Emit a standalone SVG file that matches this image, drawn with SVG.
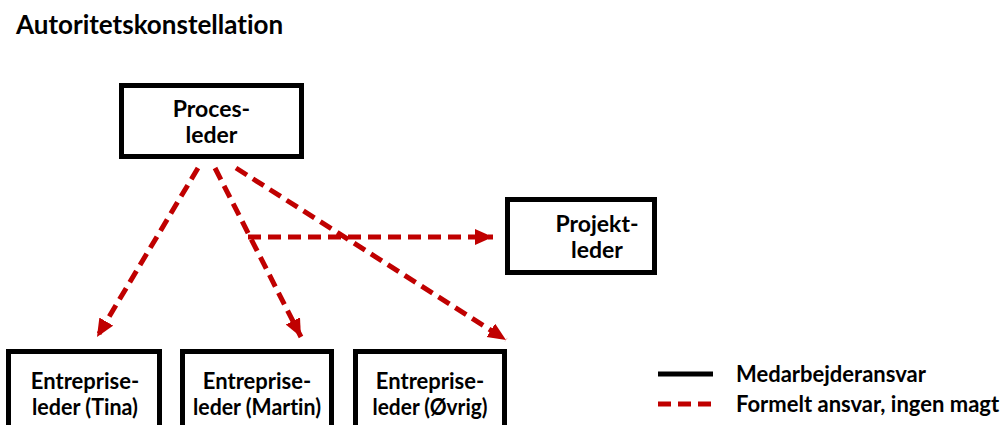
<svg xmlns="http://www.w3.org/2000/svg" width="1003" height="425" viewBox="0 0 1003 425">
  <style>
    text { font-family: Lato, "Open Sans", "Liberation Sans", sans-serif; font-weight: 700; fill: #000000; font-variant-ligatures: none; }
    .box { fill: #ffffff; stroke: #000000; stroke-width: 5; }
    .lbl { font-size: 23px; text-anchor: middle; }
    .sm { font-size: 22px; }
    .title { font-size: 26px; }
    .legend { font-size: 22px; }
    .formal { fill: none; stroke: #C00000; stroke-width: 5; stroke-dasharray: 13 7; }
    .staff { fill: none; stroke: #000000; stroke-width: 5; }
  </style>
  <defs>
    <marker id="head" markerUnits="userSpaceOnUse" markerWidth="20" markerHeight="18" refX="18" refY="8" orient="auto">
      <path d="M0,0 L18,8 L0,16 Z" fill="#C00000"/>
    </marker>
  </defs>

  <rect width="1003" height="425" fill="#ffffff"/>

  <text class="title" x="16" y="34">Autoritetskonstellation</text>

  <!-- formal responsibility connectors -->
  <g id="connectors">
    <line class="formal" x1="198" y1="168" x2="97" y2="337" marker-end="url(#head)"/>
    <line class="formal" x1="215" y1="168" x2="301" y2="337" marker-end="url(#head)"/>
    <line class="formal" x1="236" y1="168" x2="506" y2="340" marker-end="url(#head)"/>
    <line class="formal" x1="248" y1="237" x2="493" y2="237" marker-end="url(#head)"/>
  </g>

  <g id="procesleder">
    <rect class="box" x="121.5" y="85.5" width="180" height="71"/>
    <text class="lbl" x="211.5" y="117">Proces-</text>
    <text class="lbl" x="211.5" y="143">leder</text>
  </g>

  <g id="projektleder">
    <rect class="box" x="507.5" y="199.5" width="147" height="73"/>
    <text class="lbl" x="597" y="232">Projekt-</text>
    <text class="lbl" x="597" y="258">leder</text>
  </g>

  <g id="entrepriseleder-tina">
    <rect class="box" x="8.5" y="351.5" width="151" height="100"/>
    <text class="lbl sm" x="85" y="389">Entreprise-</text>
    <text class="lbl sm" x="85" y="415" textLength="106" lengthAdjust="spacingAndGlyphs">leder (Tina)</text>
  </g>

  <g id="entrepriseleder-martin">
    <rect class="box" x="182.5" y="351.5" width="149" height="100"/>
    <text class="lbl sm" x="257" y="389">Entreprise-</text>
    <text class="lbl sm" x="257" y="415" textLength="128" lengthAdjust="spacingAndGlyphs">leder (Martin)</text>
  </g>

  <g id="entrepriseleder-oevrig">
    <rect class="box" x="355.5" y="351.5" width="149" height="100"/>
    <text class="lbl sm" x="430" y="389">Entreprise-</text>
    <text class="lbl sm" x="430" y="415" textLength="115" lengthAdjust="spacingAndGlyphs">leder (Øvrig)</text>
  </g>

  <g id="legend">
    <line class="staff" x1="658" y1="374" x2="713" y2="374"/>
    <line class="formal" x1="658" y1="404" x2="712" y2="404"/>
    <text class="legend" x="736" y="382">Medarbejderansvar</text>
    <text class="legend" x="736" y="412">Formelt ansvar, ingen magt</text>
  </g>
</svg>
